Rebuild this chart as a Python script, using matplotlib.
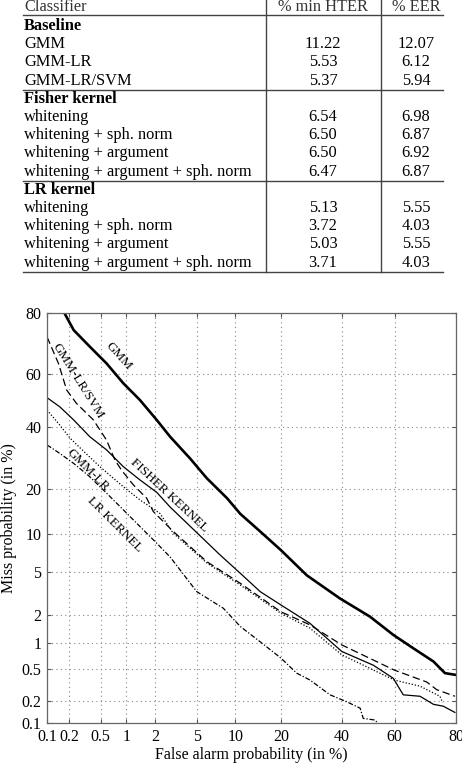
import matplotlib
matplotlib.use("Agg")
import matplotlib.pyplot as plt
import numpy as np
from statistics import NormalDist

plt.rcParams['font.family'] = ['Liberation Serif', 'DejaVu Serif']

# ---- table data ----
header = ["Classifier", "% min HTER", "% EER"]
sections = ["Baseline", "Fisher kernel", "LR kernel"]
baseline_names = ["GMM", "GMM-LR", "GMM-LR/SVM"]
baseline_hter = ["11.22", "5.53", "5.37"]
baseline_eer = ["12.07", "6.12", "5.94"]
kernel_names = ["whitening", "whitening + sph. norm", "whitening + argument",
                "whitening + argument + sph. norm"]
fisher_hter = ["6.54", "6.50", "6.50", "6.47"]
fisher_eer = ["6.98", "6.87", "6.92", "6.87"]
lr_hter = ["5.13", "3.72", "5.03", "3.71"]
lr_eer = ["5.55", "4.03", "5.55", "4.03"]

# ---- DET curves (false alarm %, miss %) ----
gmm_fa = [0.17, 0.23, 0.37, 0.59, 0.92, 1.40, 2.09, 2.83, 4.32, 6.0, 8.7, 10.9,
          14.9, 20.0, 27.7, 39.2, 50.6, 59.4, 66.7, 73.4, 76.9, 79.7]
gmm_miss = [80.3, 75.1, 69.8, 64.0, 56.7, 50.3, 42.7, 36.5, 29.0, 22.9, 17.5, 13.9,
            10.5, 7.6, 4.7, 2.9, 1.92, 1.24, 0.88, 0.62, 0.45, 0.43]

fisher_fa = [0.1, 0.15, 0.23, 0.37, 0.59, 0.92, 1.40, 2.09, 2.83, 7.7, 10.9, 14.9,
             20.0, 28.7, 39.9, 51.9, 59.4, 63.1, 69.0, 73.4, 76.4, 79.7]
fisher_miss = [51.2, 47.7, 42.7, 36.5, 31.9, 26.4, 22.4, 19.0, 15.4, 6.95, 4.9, 3.36,
               2.51, 1.64, 0.81, 0.56, 0.39, 0.24, 0.23, 0.18, 0.17, 0.14]

svm_fa = [0.1, 0.144, 0.186, 0.25, 0.41, 0.59, 0.74, 0.88, 1.19, 1.65, 1.93, 3.03,
          6.0, 10.9, 20.0, 28.7, 39.9, 59.8, 71.2, 74.4, 79.7]
svm_miss = [73.0, 64.0, 54.1, 49.0, 42.7, 35.3, 28.5, 25.3, 21.0, 17.5, 14.4, 10.5,
            6.15, 4.0, 2.15, 1.58, 0.96, 0.49, 0.35, 0.28, 0.23]

gmmlr_fa = [0.1, 0.15, 0.206, 0.306, 0.49, 0.92, 1.40, 2.25, 3.03, 6.0, 10.9,
            20.0, 28.7, 39.9, 59.8, 69.0, 75.4, 76.2]
gmmlr_miss = [46.5, 40.8, 36.0, 31.5, 26.4, 20.5, 17.1, 14.0, 10.2, 6.0, 3.86,
              2.08, 1.46, 0.74, 0.37, 0.31, 0.23, 0.19]

lrk_fa = [0.1, 0.15, 0.23, 0.37, 0.59, 0.92, 1.40, 2.09, 2.83, 4.94, 8.15, 10.9,
          14.9, 20.0, 24.5, 28.7, 35.6, 41.7, 46.8, 48.0, 52.5, 53.5]
lrk_miss = [33.6, 30.7, 27.4, 23.3, 18.8, 14.8, 11.4, 8.6, 6.7, 3.36, 2.33, 1.52,
            1.04, 0.68, 0.45, 0.37, 0.24, 0.195, 0.16, 0.116, 0.11, 0.1]

ticks = [0.1, 0.2, 0.5, 1, 2, 5, 10, 20, 40, 60, 80]
tick_labels = ["0.1", "0.2", "0.5", "1", "2", "5", "10", "20", "40", "60", "80"]

nd = NormalDist()
_ppf = np.vectorize(nd.inv_cdf, otypes=[float])
_cdf = np.vectorize(nd.cdf, otypes=[float])


def probit(p):
    return _ppf(np.clip(np.asarray(p, dtype=float) / 100.0, 1e-9, 1 - 1e-9))


def unprobit(z):
    return _cdf(np.asarray(z, dtype=float)) * 100.0


fig = plt.figure(figsize=(4.62, 7.64), dpi=100)

# ---- table, drawn in pixel coordinates ----
tab = fig.add_axes([0, 0, 1, 1])
tab.set_xlim(0, 462)
tab.set_ylim(764, 0)
tab.axis("off")
fs = 11.8
line_c = "#444444"
x_left, x_sep1, x_sep2, x_right = 23, 266, 381, 443
c1, c2 = 323, 416

tab.text(x_left + 1, 7, header[0], fontsize=fs, va="center", color="#333333")
tab.text(c1, 7, header[1], fontsize=fs, va="center", ha="center", color="#333333")
tab.text(c2, 7, header[2], fontsize=fs, va="center", ha="center", color="#333333")
tab.plot([x_left, x_right], [15, 15], color=line_c, lw=1.0)

groups = [(baseline_names, baseline_hter, baseline_eer),
          (kernel_names, fisher_hter, fisher_eer),
          (kernel_names, lr_hter, lr_eer)]
step = 18.2
y = 26
for title, (names, hter, eer) in zip(sections, groups):
    tab.text(x_left + 1, y, title, fontsize=fs, va="center", fontweight="bold")
    for n, h, e in zip(names, hter, eer):
        y += step
        tab.text(x_left + 1, y, n, fontsize=fs, va="center")
        tab.text(c1, y, h, fontsize=fs, va="center", ha="center")
        tab.text(c2, y, e, fontsize=fs, va="center", ha="center")
    y += step / 2
    tab.plot([x_left, x_right], [y, y], color=line_c, lw=1.0)
    y += step / 2
bottom = y - step / 2
tab.plot([x_sep1, x_sep1], [0, bottom], color=line_c, lw=1.0)
tab.plot([x_sep2, x_sep2], [0, bottom], color=line_c, lw=1.0)

# ---- DET plot ----
ax = fig.add_axes([47 / 462, 41 / 764, 409 / 462, 410 / 764])
ax.set_xscale("function", functions=(probit, unprobit))
ax.set_yscale("function", functions=(probit, unprobit))

ax.plot(gmm_fa, gmm_miss, color="black", lw=1.9)
ax.plot(fisher_fa, fisher_miss, color="black", lw=0.9)
ax.plot(svm_fa, svm_miss, color="black", lw=0.9, dashes=(6, 3))
ax.plot(gmmlr_fa, gmmlr_miss, color="black", lw=0.9, dashes=(1, 1.5))
ax.plot(lrk_fa, lrk_miss, color="black", lw=0.9, dashes=(4, 1.5, 1, 1.5))

ax.set_xlim(0.1, 80)
ax.set_ylim(0.1, 80)
ax.set_xticks(ticks)
ax.set_xticklabels(tick_labels)
ax.set_yticks(ticks)
ax.set_yticklabels(tick_labels)
ax.minorticks_off()
ax.tick_params(direction="in", top=True, right=True, length=3, width=0.8,
               labelsize=11.5, color="#555555", pad=4)
ax.grid(True, linestyle=(0, (1, 3)), color="#888888", lw=0.8)
for s in ax.spines.values():
    s.set_color("#666666")
    s.set_linewidth(0.9)

ax.set_xlabel("False alarm probability (in %)", fontsize=11.5, labelpad=2)
ax.set_ylabel("Miss probability (in %)", fontsize=11.5, labelpad=3)

lab = dict(fontsize=9.5, ha="center", va="center", rotation_mode="anchor")
ax.text(0.82, 66.6, "GMM", rotation=-48, **lab)
ax.text(0.264, 57.5, "GMM-LR/SVM", rotation=-58, **lab)
ax.text(2.76, 18.3, "FISHER KERNEL", rotation=-43, **lab)
ax.text(0.35, 25.3, "GMM-LR", rotation=-45, **lab)
ax.text(0.74, 11.7, "LR KERNEL", rotation=-45, **lab)

fig.savefig("out.png", dpi=100)
